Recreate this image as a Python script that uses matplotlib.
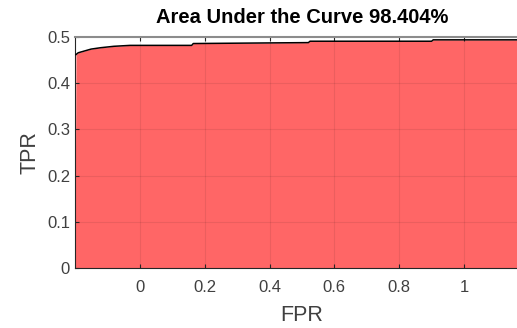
import matplotlib.pyplot as plt

plt.rcParams['font.family'] = ['Liberation Sans', 'DejaVu Sans']

# ROC points
fpr = [-0.2, -0.197, -0.19, -0.17, -0.15, -0.12, -0.08, -0.03, 0.16, 0.165, 0.52, 0.525, 0.9, 0.905, 1.2]
tpr = [0.0, 0.462, 0.466, 0.470, 0.474, 0.477, 0.480, 0.482, 0.482, 0.486, 0.488, 0.491, 0.491, 0.494, 0.494]
xticks = [0, 0.2, 0.4, 0.6, 0.8, 1]
yticks = [0, 0.1, 0.2, 0.3, 0.4, 0.5]
auc = 98.404

fig = plt.figure(figsize=(5.17, 3.28), dpi=100)
# right edge of the axes lies outside the picture (cropped like the reference)
ax = fig.add_axes([0.145, 0.183, 0.878, 0.704])

ax.fill_between(fpr, 0, tpr, color='#ff6666', zorder=1, linewidth=0)
ax.plot(fpr[1:], tpr[1:], color='black', lw=1.1, zorder=3)

ax.set_xlim(-0.2, 1.2)
ax.set_ylim(0, 0.5)
ax.set_xticks(xticks)
ax.set_xticklabels(['0', '0.2', '0.4', '0.6', '0.8', '1'])
ax.set_yticks(yticks)
ax.set_yticklabels(['0', '0.1', '0.2', '0.3', '0.4', '0.5'])
ax.grid(True, color='#000000', alpha=0.08, lw=0.8, zorder=2)
ax.tick_params(direction='in', length=3, colors='#262626', labelsize=12,
               top=True, right=True, labelcolor='#404040')
ax.tick_params(axis='x', pad=9)
for s in ['left', 'bottom']:
    ax.spines[s].set_color('#262626')
ax.spines['top'].set_color('#8c8c8c')
ax.spines['top'].set_linewidth(1.5)

ax.set_xlabel('FPR', fontsize=15.5, color='#404040', labelpad=7)
ax.set_ylabel('TPR', fontsize=15.5, color='#404040', labelpad=5)
ax.set_title(f'Area Under the Curve {auc}%', fontsize=14.5, fontweight='bold', pad=10)

fig.savefig('out.png', dpi=100)
